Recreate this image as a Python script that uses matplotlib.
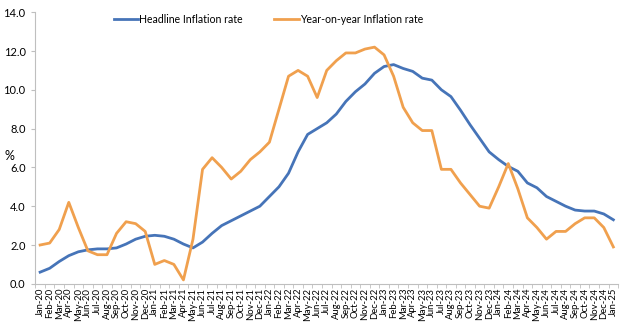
import matplotlib
matplotlib.use("Agg")
import matplotlib.pyplot as plt
import numpy as np

plt.rcParams['font.family'] = ['Lato', 'DejaVu Sans']

# months Jan-20 .. Jan-25
months = ['Jan-20', 'Feb-20', 'Mar-20', 'Apr-20', 'May-20', 'Jun-20', 'Jul-20', 'Aug-20',
          'Sep-20', 'Oct-20', 'Nov-20', 'Dec-20',
          'Jan-21', 'Feb-21', 'Mar-21', 'Apr-21', 'May-21', 'Jun-21', 'Jul-21', 'Aug-21',
          'Sep-21', 'Oct-21', 'Nov-21', 'Dec-21',
          'Jan-22', 'Feb-22', 'Mar-22', 'Apr-22', 'May-22', 'Jun-22', 'Jul-22', 'Aug-22',
          'Sep-22', 'Oct-22', 'Nov-22', 'Dec-22',
          'Jan-23', 'Feb-23', 'Mar-23', 'Apr-23', 'May-23', 'Jun-23', 'Jul-23', 'Aug-23',
          'Sep-23', 'Oct-23', 'Nov-23', 'Dec-23',
          'Jan-24', 'Feb-24', 'Mar-24', 'Apr-24', 'May-24', 'Jun-24', 'Jul-24', 'Aug-24',
          'Sep-24', 'Oct-24', 'Nov-24', 'Dec-24', 'Jan-25']

headline = [0.6, 0.8, 1.15, 1.45, 1.65, 1.75, 1.8, 1.8, 1.85, 2.05, 2.3, 2.45,
            2.5, 2.45, 2.3, 2.05, 1.85, 2.15, 2.6, 3.0, 3.25, 3.5, 3.75, 4.0,
            4.5, 5.0, 5.7, 6.8, 7.7, 8.0, 8.3, 8.75, 9.4, 9.9, 10.3, 10.85,
            11.2, 11.3, 11.1, 10.95, 10.6, 10.5, 10.0, 9.65, 8.95, 8.2, 7.5, 6.8,
            6.4, 6.05, 5.8, 5.2, 4.95, 4.5, 4.25, 4.0, 3.8, 3.75, 3.75, 3.6, 3.3]

yoy = [2.0, 2.1, 2.8, 4.2, 2.9, 1.7, 1.5, 1.5, 2.6, 3.2, 3.1, 2.7,
       1.0, 1.2, 1.0, 0.2, 2.3, 5.9, 6.5, 6.0, 5.4, 5.8, 6.4, 6.8,
       7.3, 9.0, 10.7, 11.0, 10.7, 9.6, 11.0, 11.5, 11.9, 11.9, 12.1, 12.2,
       11.8, 10.7, 9.1, 8.3, 7.9, 7.9, 5.9, 5.9, 5.2, 4.6, 4.0, 3.9,
       5.0, 6.2, 4.9, 3.4, 2.9, 2.3, 2.7, 2.7, 3.1, 3.4, 3.4, 2.9, 1.9]

fig = plt.figure(figsize=(6.2, 3.3), dpi=100)
ax = fig.add_axes([0.057, 0.14, 0.94, 0.823])

x = np.arange(len(months))
ax.plot(x, headline, color='#4674b8', lw=2.0, label='Headline Inflation rate')
ax.plot(x, yoy, color='#f0a04e', lw=2.0, label='Year-on-year Inflation rate')

ax.set_xlim(-0.5, len(months) - 0.5)
ax.set_ylim(0, 14)
ax.set_yticks(np.arange(0, 14.1, 2))
ax.set_yticklabels([f'{v:.1f}' for v in np.arange(0, 14.1, 2)], fontsize=8)
ax.set_xticks(x)
ax.set_xticklabels(months, rotation=90, fontsize=6.8)
ax.set_xticks(np.arange(-0.5, len(months), 1), minor=True)
ax.tick_params(axis='x', which='major', length=0, pad=3)
ax.tick_params(axis='x', which='minor', length=3, color='#bfbfbf')
ax.tick_params(axis='y', length=3, color='#bfbfbf', pad=4)

for s in ['top', 'right']:
    ax.spines[s].set_visible(False)
ax.spines['left'].set_color('#bfbfbf')
ax.spines['bottom'].set_color('#bfbfbf')

ax.set_ylabel('%', rotation=0, fontsize=9)
ax.yaxis.set_label_coords(-0.045, 0.45)

ax.legend(loc='upper center', bbox_to_anchor=(0.40, 1.03), ncol=2, frameon=False,
          fontsize=7.6, handlelength=2.3, columnspacing=3.0, handletextpad=0.1)

fig.savefig('out.png', dpi=100)
